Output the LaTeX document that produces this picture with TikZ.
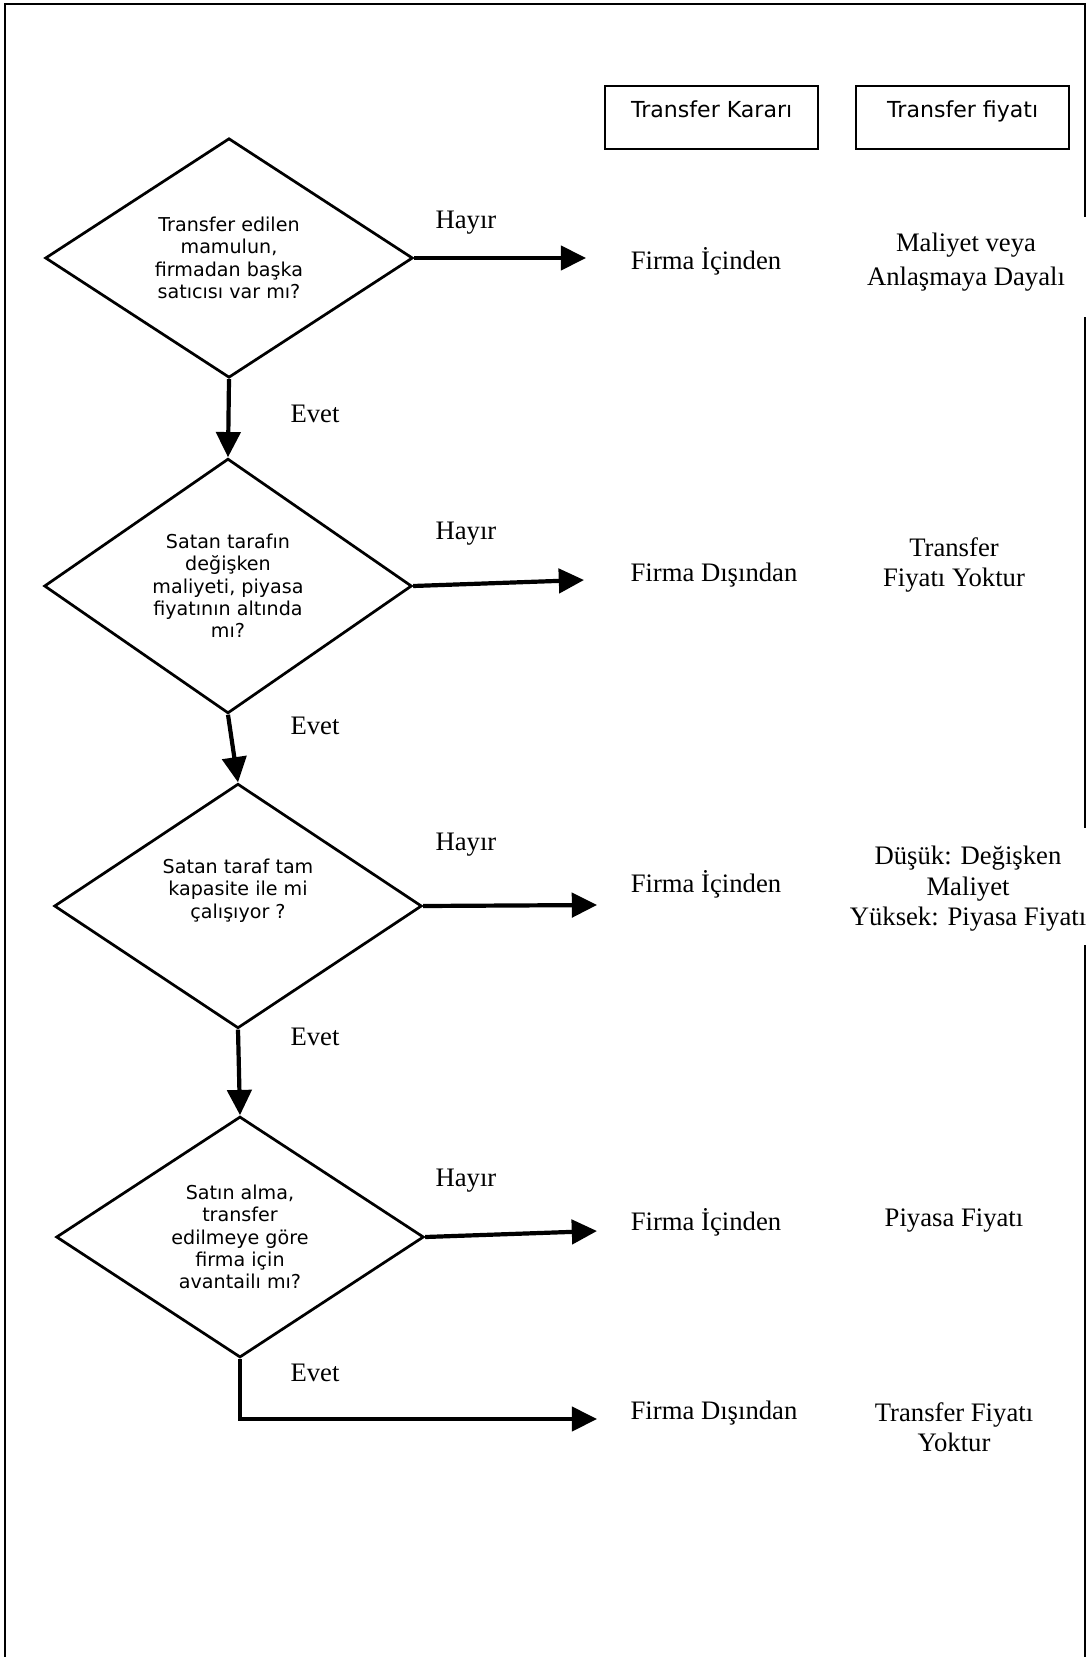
\documentclass[tikz,border=0pt]{standalone}
\usepackage{fontspec}
\setmainfont{Liberation Serif}
\newfontfamily\verdfont{DejaVu Sans}
\usetikzlibrary{shapes.geometric,arrows.meta}

\begin{document}
\begin{tikzpicture}[x=0.476pt,y=-0.476pt,
    soru/.style={diamond,draw,line width=1.3pt,inner sep=0pt,minimum width=175pt,minimum height=114pt,align=center,font=\verdfont\fontsize{9.1}{10.6}\selectfont},
    baslik/.style={draw,line width=1pt,anchor=north west,minimum width=101.5pt,inner ysep=0pt,text height=14.8pt,text depth=15.2pt,font=\verdfont\fontsize{10.5}{12}\selectfont},
    yazi/.style={align=center,font=\fontsize{12.7}{14.5}\selectfont},
    ok/.style={line width=2pt,-{Triangle[length=12pt,width=11.5pt]}}]
          \useasboundingbox (0,0) rectangle (1087,1657);
          % cerceve
          \draw[line width=0.9pt] (5,1657) |- (1085,4) -- (1085,217);
          \draw[line width=0.9pt] (1085,317) -- (1085,828);
          \draw[line width=0.9pt] (1085,945) -- (1085,1657);
          % basliklar
          \node[baslik] at (604,85) (kbas) {Transfer Kararı};
          \node[baslik] at (855,85) (fbas) {Transfer fiyatı};
          % sorular
          \node[soru] at (229,258) (s1) {Transfer edilen\\mamulun,\\firmadan başka\\satıcısı var mı?};
          \node[soru] at (228,586) (s2) {Satan tarafın\\değişken\\maliyeti, piyasa\\fiyatının altında\\mı?};
          \node[soru] at (238,906) (s3) {Satan taraf tam\\kapasite ile mi\\çalışıyor ?\\[6pt]\mbox{}};
          \node[soru] at (240,1237) (s4) {Satın alma,\\transfer\\edilmeye göre\\firma için\\avantailı mı?};
          \coordinate (u1) at (586,258);
          \coordinate (u2) at (584,580);
          \coordinate (u3) at (597,905);
          \coordinate (u4) at (597,1231);
          \coordinate (u5) at (597,1419);
          \path[ok] (s1.east) edge (u1);
          \path[ok] (s2.east) edge (u2);
          \path[ok] (s3.east) edge (u3);
          \path[ok] (s4.east) edge (u4);
          \path[ok] (s1.south) edge (s2.north);
          \path[ok] (s2.south) edge (s3.north);
          \path[ok] (s3.south) edge (s4.north);
          \draw[ok] (s4.south) |- (u5);
          % etiketler
          \node[yazi] at (466,223) (h1) {Hayır};
          \node[yazi] at (466,534) (h2) {Hayır};
          \node[yazi] at (466,845) (h3) {Hayır};
          \node[yazi] at (466,1181) (h4) {Hayır};
          \node[yazi] at (315,414) (e1) {Evet};
          \node[yazi] at (315,726) (e2) {Evet};
          \node[yazi] at (315,1037) (e3) {Evet};
          \node[yazi] at (315,1373) (e4) {Evet};
          % kararlar ve fiyatlar
          \node[yazi] at (706,261) (k1) {Firma İçinden};
          \node[yazi] at (966,262) (f1) {Maliyet veya\\[1.5pt]Anlaşmaya Dayalı};
          \node[yazi] at (714,575) (k2) {Firma Dışından};
          \node[yazi] at (954,565) (f2) {Transfer\\Fiyatı Yoktur};
          \node[yazi] at (706,884) (k3) {Firma İçinden};
          \node[yazi] at (968,889) (f3) {Düşük: Değişken\\Maliyet\\Yüksek: Piyasa Fiyatı};
          \node[yazi] at (706,1222) (k4) {Firma İçinden};
          \node[yazi] at (954,1221) (f4) {Piyasa Fiyatı};
          \node[yazi] at (714,1413) (k5) {Firma Dışından};
          \node[yazi] at (954,1427) (f5) {Transfer Fiyatı\\Yoktur};
        \end{tikzpicture}
\end{document}
